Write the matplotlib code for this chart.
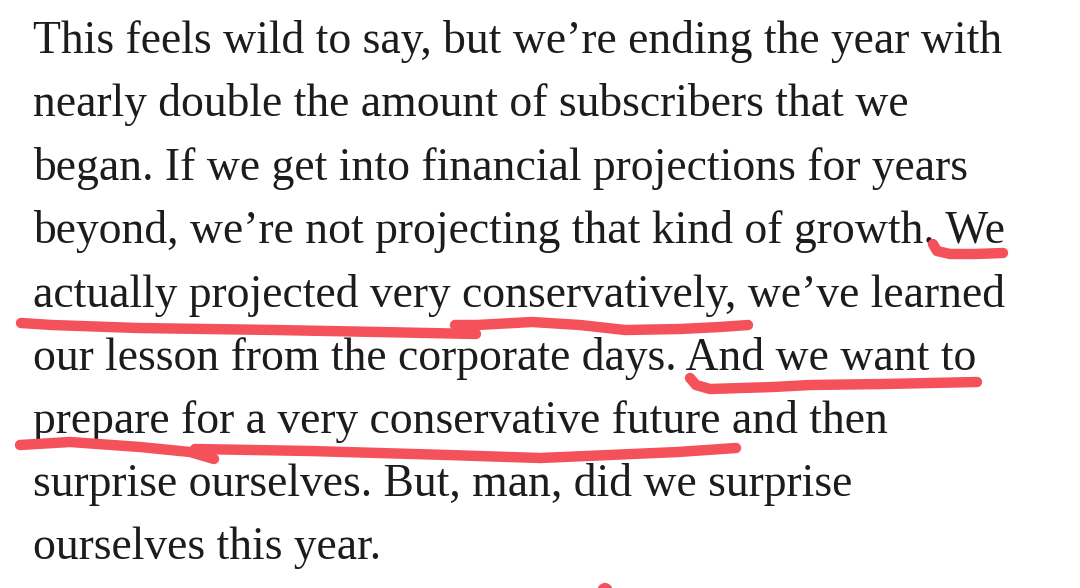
import matplotlib
matplotlib.use("Agg")
import matplotlib.pyplot as plt

# paragraph text, one entry per rendered line
lines = [
    "This feels wild to say, but we\u2019re ending the year with",
    "nearly double the amount of subscribers that we",
    "began. If we get into financial projections for years",
    "beyond, we\u2019re not projecting that kind of growth. We",
    "actually projected very conservatively, we\u2019ve learned",
    "our lesson from the corporate days. And we want to",
    "prepare for a very conservative future and then",
    "surprise ourselves. But, man, did we surprise",
    "ourselves this year.",
]
baselines = [53, 116, 180, 243, 307, 370, 433, 496, 559]
# right edge of each line in the reference, used to fit the font size
line_ends = [985, 922, 962, 993, 1003, 973, 903, 864, 382]

# hand-drawn red underline strokes (pixel coords)
stroke_we_x = [933, 937, 950, 975, 1003]
stroke_we_y = [244, 251, 254, 254, 253]
stroke_actually_x = [21, 52, 138, 276, 379, 476]
stroke_actually_y = [323, 325, 328, 330, 332, 334]
stroke_conserv_x = [455, 477, 532, 580, 625, 680, 720, 748]
stroke_conserv_y = [325, 325, 322, 325, 330, 329, 327, 325]
stroke_and_x = [690, 696, 710, 773, 810, 884, 977]
stroke_and_y = [378, 385, 389, 387, 385, 384, 382]
stroke_prepare_x = [20, 70, 140, 190, 214]
stroke_prepare_y = [445, 442, 447, 452, 459]
stroke_future_x = [195, 310, 448, 540, 609, 678, 736]
stroke_future_y = [449, 451, 455, 458, 455, 452, 448]
stroke_dot_x = [599, 605, 611]
stroke_dot_y = [591, 588, 591]

strokes = [
    (stroke_we_x, stroke_we_y),
    (stroke_actually_x, stroke_actually_y),
    (stroke_conserv_x, stroke_conserv_y),
    (stroke_and_x, stroke_and_y),
    (stroke_prepare_x, stroke_prepare_y),
    (stroke_future_x, stroke_future_y),
    (stroke_dot_x, stroke_dot_y),
]

W, H = 1080, 588
x0 = 33
fig = plt.figure(figsize=(W / 100, H / 100), dpi=100)
ax = fig.add_axes([0, 0, 1, 1])
ax.set_xlim(0, W)
ax.set_ylim(H, 0)
ax.axis("off")

family = "Liberation Serif"
size = 28
texts = []
for txt, yb in zip(lines, baselines):
    t = ax.text(x0, yb, txt, fontsize=size, family=family, color="#1c1c1c",
                va="baseline", ha="left")
    texts.append(t)

# fit one font size to the reference line widths (least squares)
fig.canvas.draw()
r = fig.canvas.get_renderer()
widths = [t.get_window_extent(r).width for t in texts]
targets = [e - x0 for e in line_ends]
scale = sum(w * tg for w, tg in zip(widths, targets)) / sum(w * w for w in widths)
for t in texts:
    t.set_fontsize(size * scale)

for xs, ys in strokes:
    ax.plot(xs, ys, color="#f4515a", lw=7.5, solid_capstyle="round",
            solid_joinstyle="round", zorder=3)

fig.savefig("out.png", dpi=100, facecolor="white")
